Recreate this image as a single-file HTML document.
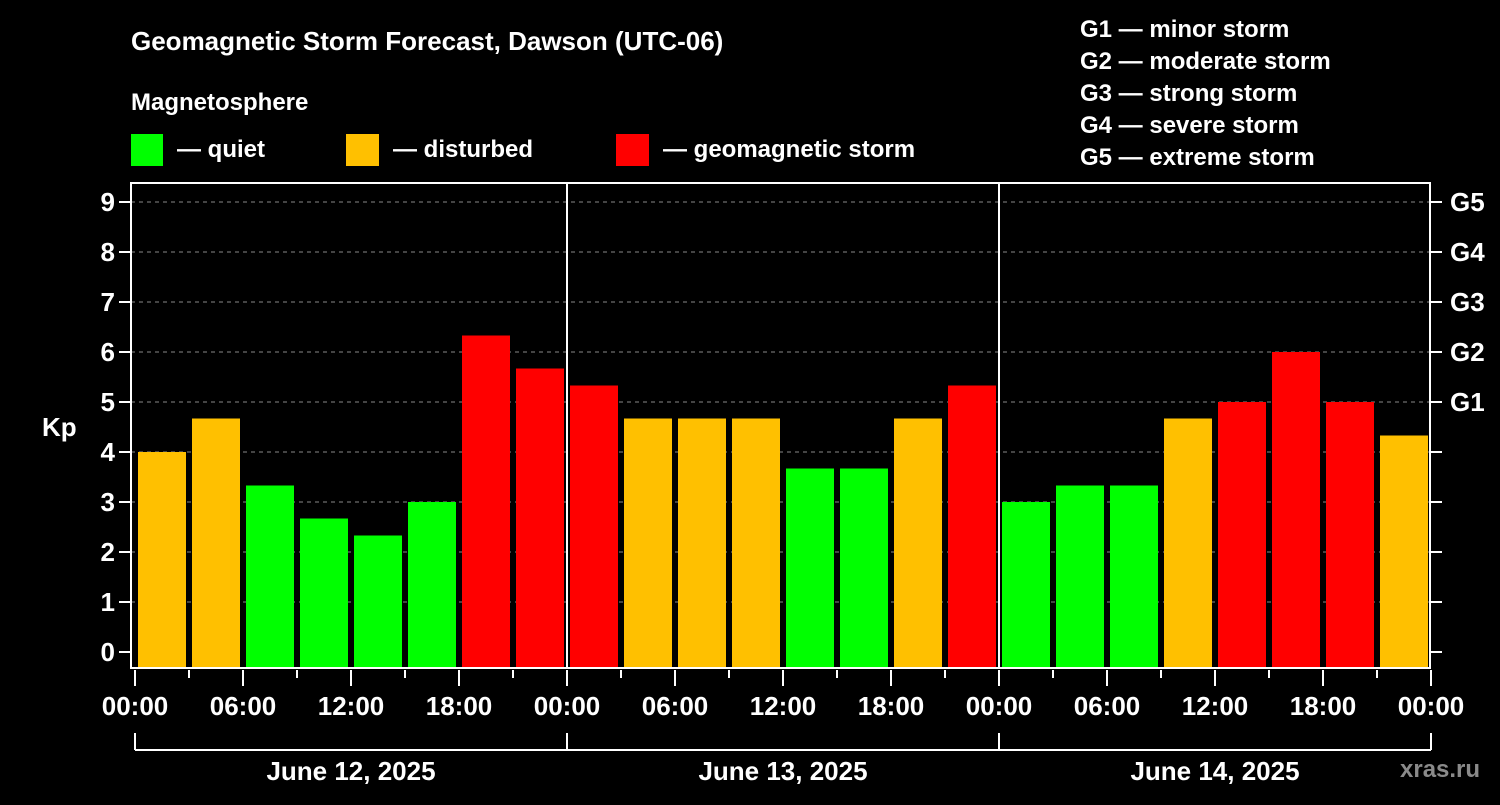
<!DOCTYPE html>
<html><head><meta charset="utf-8"><style>
body{margin:0;background:#000;width:1500px;height:800px;overflow:hidden}
svg text{font-family:"Liberation Sans",Arial,sans-serif;font-weight:bold;fill:#fff}
</style></head><body>
<svg id="c" width="1500" height="800">
<text x="131" y="50" font-size="26">Geomagnetic Storm Forecast, Dawson (UTC-06)</text>
<text x="131" y="110" font-size="24">Magnetosphere</text>
<g><rect x="131" y="134" width="32" height="32" fill="#00ff00"/><text x="177" y="157" font-size="24">— quiet</text></g>
<g><rect x="346" y="134" width="33" height="32" fill="#ffc000"/><text x="393" y="157" font-size="24">— disturbed</text></g>
<g><rect x="616" y="134" width="33" height="32" fill="#ff0000"/><text x="663" y="157" font-size="24">— geomagnetic storm</text></g>
<g font-size="24">
<text x="1080" y="37">G1 — minor storm</text><text x="1080" y="69">G2 — moderate storm</text><text x="1080" y="101">G3 — strong storm</text><text x="1080" y="133">G4 — severe storm</text><text x="1080" y="165">G5 — extreme storm</text></g>
<text x="42" y="436" font-size="26">Kp</text>
<text x="1400" y="777" font-size="24" fill="#888" style="fill:#8a8a8a">xras.ru</text>
<g id="plot"></g>
</svg>
<script>
const days=["June 12, 2025","June 13, 2025","June 14, 2025"];
const kpValues=[4.0,4.67,3.33,2.67,2.33,3.0,6.33,5.67, 5.33,4.67,4.67,4.67,3.67,3.67,4.67,5.33, 3.0,3.33,3.33,4.67,5.0,6.0,5.0,4.33];
const timeLabels=["00:00","06:00","12:00","18:00"];
const yTicks=[0,1,2,3,4,5,6,7,8,9];
const gLabels=["G1","G2","G3","G4","G5"];
const NS="http://www.w3.org/2000/svg",g=document.getElementById('plot');
const X0=135,DAYW=432,SLOT=DAYW/8,TOP=183,BOT=668,L=131,R=1430;
const y=v=>652-v*50, x=i=>X0+i*SLOT;
function mk(t,a,p){const e=document.createElementNS(NS,t);for(const k in a)e.setAttribute(k,a[k]);(p||g).appendChild(e);return e;}
yTicks.forEach(v=>{
 if(v>0){const gl=mk('line',{x1:L,x2:R,y1:y(v),y2:y(v),stroke:'#888','stroke-dasharray':'4,4','stroke-width':1});
 
 }
 mk('line',{x1:L-12,x2:L,y1:y(v),y2:y(v),stroke:'#fff','stroke-width':2});
 mk('line',{x1:R,x2:R+12,y1:y(v),y2:y(v),stroke:'#fff','stroke-width':2});
 const t=mk('text',{x:L-16,y:y(v)+9,'text-anchor':'end','font-size':26});t.textContent=v;
 
 
});
gLabels.forEach((s,i)=>{const t=mk('text',{x:1450,y:y(5+i)+9,'font-size':26});t.textContent=s;
 
 });
kpValues.forEach((v,i)=>{
 const c=v>=5?'#ff0000':v>=4?'#ffc000':'#00ff00';
 const r=mk('rect',{x:x(i)+3,y:y(v),width:SLOT-6,height:BOT-y(v),fill:c});
 
 
});
mk('rect',{x:L,y:TOP,width:R-L,height:BOT-TOP,fill:'none',stroke:'#fff','stroke-width':2});
for(let d=1;d<days.length;d++)mk('line',{x1:X0+d*DAYW,x2:X0+d*DAYW,y1:TOP,y2:BOT,stroke:'#fff','stroke-width':2});
for(let k=0;k<=days.length*8;k++){
 const xx=X0+k*SLOT, major=k%2==0;
 mk('line',{x1:xx,x2:xx,y1:BOT+2,y2:major?BOT+18:BOT+10,stroke:'#fff','stroke-width':2});
 if(major){const t=mk('text',{x:xx,y:715,'text-anchor':'middle','font-size':26});t.textContent=timeLabels[(k/2)%4];
 
 }
}
mk('line',{x1:X0,x2:X0+days.length*DAYW,y1:750,y2:750,stroke:'#fff','stroke-width':2});
for(let d=0;d<=days.length;d++)mk('line',{x1:X0+d*DAYW,x2:X0+d*DAYW,y1:733,y2:750,stroke:'#fff','stroke-width':2});
days.forEach((s,d)=>{const t=mk('text',{x:X0+d*DAYW+DAYW/2,y:780,'text-anchor':'middle','font-size':26});t.textContent=s;
 
 });
</script>
</body></html>
